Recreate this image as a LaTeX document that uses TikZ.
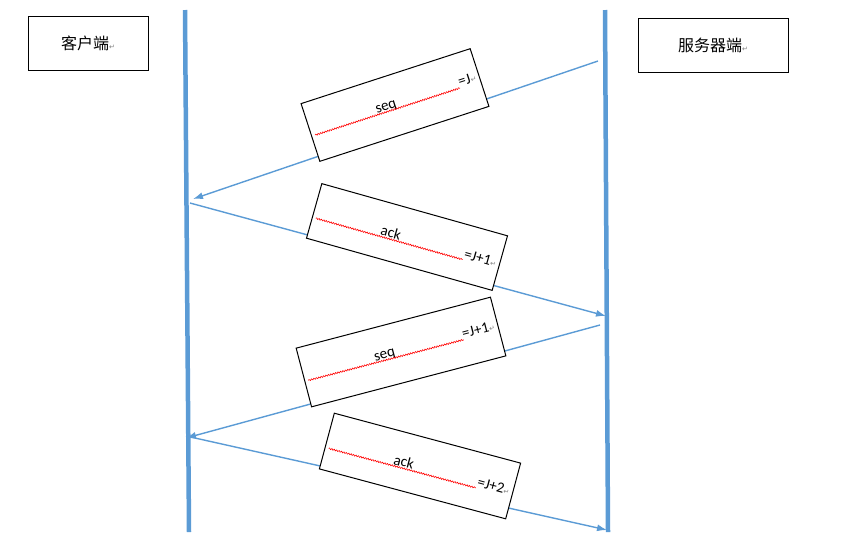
\documentclass[tikz,border=0pt]{standalone}
\usepackage{fontspec}
\setmainfont{Carlito}
\newfontfamily\cjk{Noto Sans CJK SC}
\newfontfamily\djfont{DejaVu Sans}
\usetikzlibrary{arrows.meta,decorations.pathmorphing}
\definecolor{lblue}{RGB}{91,155,213}
\newcommand{\parmark}{{\djfont\fontsize{7}{8}\selectfont\color{gray}↵}}
\newcommand{\sqword}[1]{\tikz[baseline=(w.base)]{\node[inner sep=0pt,anchor=base](w){#1};\draw[red,line width=0.6pt,decorate,decoration={snake,amplitude=0.7pt,segment length=2.5pt}]([yshift=-1.5pt]w.base west)--([yshift=-1.5pt]w.base east);}}
\begin{document}
\begin{tikzpicture}[x=1pt,y=-1pt,
  life/.style={lblue,line width=4.5pt},
  msg/.style={lblue,line width=1.4pt,-{Latex[length=10pt,width=7pt]}},
  party/.style={draw,line width=1pt,minimum width=#1,minimum height=54pt,font=\cjk\fontsize{16}{18}\selectfont},
  lbl/.style={draw,fill=white,line width=1pt,minimum width=152pt,minimum height=51pt,font=\fontsize{15}{18}\selectfont}]
\useasboundingbox (0,0) rectangle (866,558);
\coordinate (c1) at (185,10); \coordinate (c2) at (189,532);
\coordinate (s1) at (605,10); \coordinate (s2) at (608,532);
\draw[life] (c1)--(c2);
\draw[life] (s1)--(s2);
\node[party=120pt] (cl) at (88,43) {客户端\parmark};
\node[party=150pt] (sv) at (713,45) {服务器端\parmark};
\coordinate (a1) at (598,61); \coordinate (a2) at (193,199);
\coordinate (b1) at (190,203); \coordinate (b2) at (606,316);
\coordinate (d1) at (600,325); \coordinate (d2) at (186,438);
\coordinate (e1) at (186,436); \coordinate (e2) at (607,530);
\draw[msg] (a1)--(a2);
\draw[msg] (b1)--(b2);
\draw[msg] (d1)--(d2);
\draw[msg] (e1)--(e2);
\node[lbl,minimum height=54pt,rotate=18] (l1) at (395,105) {\sqword{seq}=J\parmark};
\node[lbl,minimum height=50pt,rotate=-15.7] (l2) at (407,237) {\sqword{ack}=J+1\parmark};
\node[lbl,minimum width=160pt,minimum height=54pt,rotate=14.7] (l3) at (401,352) {\sqword{seq}=J+1\parmark};
\node[lbl,rotate=-15] (l4) at (420,466) {\sqword{ack}=J+2\parmark};
\end{tikzpicture}
\end{document}
